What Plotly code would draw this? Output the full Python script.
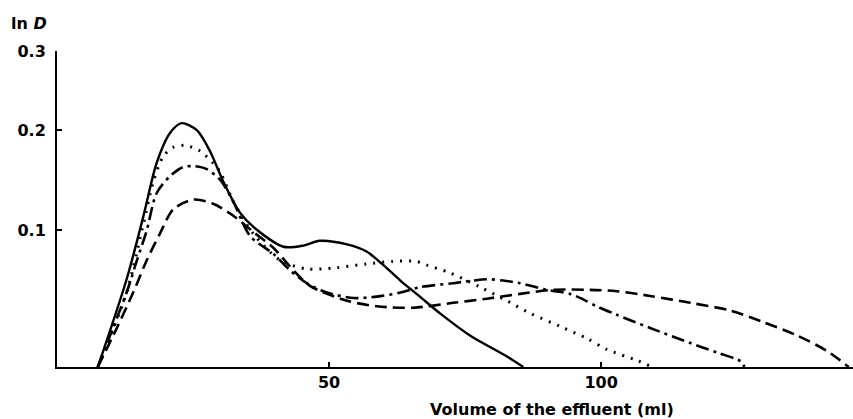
import math
import plotly.graph_objects as go

# Volume of effluent (ml) and ln D
solid_x = [7.5, 12.8, 15.9, 18.3, 20.8, 22.9, 25.7, 28.1, 30.6, 33.6, 36.1, 41.6, 45.3, 48.3,
           53.3, 56.9, 60.0, 63.1, 66.7, 70.4, 75.9, 82.7, 85.7]
solid_y = [0.0, 0.060, 0.113, 0.164, 0.197, 0.208, 0.200, 0.177, 0.145, 0.116, 0.103, 0.086,
           0.087, 0.091, 0.088, 0.082, 0.071, 0.059, 0.047, 0.035, 0.020, 0.0065, 0.0]

dotted_x = [7.5, 12.8, 15.6, 17.7, 19.5, 21.4, 23.5, 26.3, 28.7, 30.0, 32.4, 36.1, 41.0, 45.9,
            51.4, 56.9, 61.8, 66.1, 68.0, 72.2, 77.8, 82.7, 87.0, 92.5, 97.4, 101.0, 106.6, 109.4]
dotted_y = [0.0, 0.050, 0.100, 0.145, 0.171, 0.181, 0.183, 0.177, 0.164, 0.155, 0.126, 0.097,
            0.075, 0.068, 0.069, 0.072, 0.074, 0.074, 0.071, 0.065, 0.054, 0.044, 0.035, 0.026,
            0.018, 0.011, 0.004, 0.0]

dashdot_x = [7.5, 10.3, 12.8, 14.7, 16.5, 18.3, 20.8, 23.2, 25.1, 27.5, 30.0, 32.4, 35.5, 39.8,
             42.8, 45.9, 49.6, 54.5, 58.8, 63.1, 66.7, 72.8, 79.0, 82.0, 85.1, 90.0, 94.3, 96.7,
             99.2, 102.9, 109.0, 116.4, 121.3, 125.9, 126.3]
dashdot_y = [0.0, 0.025, 0.050, 0.075, 0.100, 0.134, 0.151, 0.160, 0.161, 0.158, 0.147, 0.126,
             0.095, 0.080, 0.067, 0.057, 0.050, 0.046, 0.047, 0.050, 0.054, 0.057, 0.060, 0.059,
             0.057, 0.052, 0.049, 0.045, 0.040, 0.034, 0.025, 0.015, 0.009, 0.003, 0.0]

dashed_x = [7.5, 11.0, 14.0, 16.5, 18.9, 21.4, 25.1, 28.7, 32.4, 36.1, 39.8, 42.8, 46.5, 53.3,
            58.8, 65.5, 72.8, 79.0, 85.1, 91.2, 98.0, 102.9, 109.0, 116.4, 123.7, 129.8, 136.0,
            141.5, 145.5]
dashed_y = [0.0, 0.025, 0.050, 0.075, 0.097, 0.119, 0.128, 0.124, 0.113, 0.0985, 0.085, 0.070,
            0.055, 0.044, 0.040, 0.039, 0.0425, 0.0455, 0.049, 0.052, 0.052, 0.051, 0.0475,
            0.0425, 0.037, 0.029, 0.020, 0.010, 0.0]

x_ticks = [50, 100]
y_ticks = [0.1, 0.2, 0.3]
y_tick_labels = ["0.1", "0.2", "0.3"]

# The original ruler is compressed upward; reproduce it with a log axis on (ln D + offset)
OFFSET = 0.23

def shift(vals):
    return [v + OFFSET for v in vals]

FONT = "DejaVu Sans"

fig = go.Figure()
series = [
    (solid_x, solid_y, "solid", 2.4),
    (dotted_x, dotted_y, "2px,7px", 3),
    (dashdot_x, dashdot_y, "13px,5px,3px,5px", 2.6),
    (dashed_x, dashed_y, "12px,6px", 2.6),
]
for xs, ys, dash, w in series:
    fig.add_trace(go.Scatter(
        x=xs, y=shift(ys), mode="lines",
        line=dict(color="black", width=w, dash=dash, shape="spline", smoothing=0.8),
        showlegend=False, hoverinfo="skip", cliponaxis=False,
    ))

fig.update_layout(
    width=853, height=419,
    margin=dict(l=57, r=0, t=51, b=52, autoexpand=False),
    paper_bgcolor="white", plot_bgcolor="white",
    font=dict(family=FONT, size=15, color="black"),
    xaxis=dict(
        range=[0, 146.3], showgrid=False, zeroline=False, automargin=False,
        showline=True, linecolor="black", linewidth=2,
        ticks="inside", ticklen=5, tickwidth=1.5, tickcolor="black",
        tickvals=x_ticks, ticktext=[str(t) for t in x_ticks],
        tickfont=dict(family=FONT, size=16, color="black", weight="bold"),
    ),
    yaxis=dict(
        type="log", range=[math.log10(OFFSET), math.log10(0.3 + OFFSET)],
        showgrid=False, zeroline=False, automargin=False,
        showline=True, linecolor="black", linewidth=2,
        ticks="inside", ticklen=5, tickwidth=1.5, tickcolor="black",
        tickvals=shift(y_ticks), ticktext=y_tick_labels,
        tickfont=dict(family=FONT, size=16, color="black", weight="bold"),
        ticklabelstandoff=6,
    ),
    annotations=[
        dict(text="ln <i>D</i>", xref="paper", yref="paper", x=-0.06, y=1.0, yshift=28,
             xanchor="left", yanchor="middle", showarrow=False,
             font=dict(family=FONT, size=16, color="black", weight="bold")),
        dict(text="Volume of the effluent (ml)", xref="x", yref="paper", x=91, y=0, yshift=-42,
             xanchor="center", yanchor="middle", showarrow=False,
             font=dict(family=FONT, size=16, color="black", weight="bold")),
    ],
)

fig.write_html("out.html", config={"displayModeBar": False},
               post_script="document.body.style.margin='0';document.body.style.overflow='hidden';")
